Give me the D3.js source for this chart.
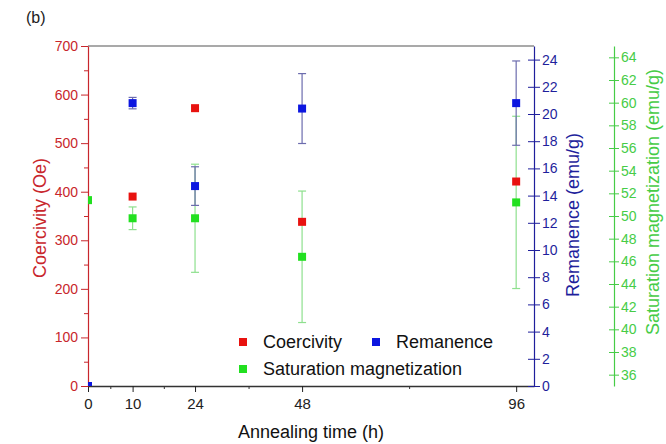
<!DOCTYPE html>
<html>
<head>
<meta charset="utf-8">
<script src="https://cdn.jsdelivr.net/npm/d3@7"></script>
<style>
  body { margin: 0; background: #fff; }
  svg { font-family: "Liberation Sans", Arial, sans-serif; }
</style>
</head>
<body>
<svg width="666" height="444"></svg>
<script>
// annealing times (h)
var times = [0, 10, 24, 48, 96]
var xTickLabels = [0, 10, 24, 48, 96]
var xMinorTicks = [5, 17, 36, 72]

// Coercivity (Oe), left axis
var coercivity = [0, 390, 572, 338, 421]
// Remanence (emu/g), first right axis
var remanence = [0, 20.8, 14.7, 20.4, 20.8]
var remanenceErr = [0, 0.42, 1.42, 2.57, 3.1]
// Saturation magnetization (emu/g), second right axis
var saturation = [51.4, 49.8, 49.8, 46.4, 51.2]
var saturationErr = [0, 1.0, 4.77, 5.8, 7.6]

var legendNames = ["Coercivity", "Remanence", "Saturation magnetization"]

var red = "#e8120f", redAxis = "#c8262c"
var blue = "#0c16e0", blueAxis = "#1f1f9c"
var green = "#22e020", greenAxis = "#46cc46"

var svg = d3.select("svg")
var pLeft = 88, pRight = 534, pTop = 46, pBottom = 386

var x = d3.scaleLinear().domain([0, 100]).range([pLeft, pRight])
var yL = d3.scaleLinear().domain([0, 700]).range([pBottom, pTop])
var yR = d3.scaleLinear().domain([0, 25]).range([pBottom, pTop])
var yG = d3.scaleLinear().domain([35, 65]).range([pBottom, pTop])

svg.append("defs").append("clipPath").attr("id", "plot")
  .append("rect").attr("x", pLeft).attr("y", pTop)
  .attr("width", pRight - pLeft).attr("height", pBottom - pTop)

// top frame line
svg.append("line").attr("x1", pLeft).attr("x2", pRight).attr("y1", pTop).attr("y2", pTop)
  .attr("stroke", "#555").attr("stroke-width", 1.2)

function styleAxis(g, color, size) {
  g.select(".domain").attr("stroke", color).attr("stroke-width", 1.2)
  g.selectAll(".tick line").attr("stroke", color)
  g.selectAll(".tick text").attr("fill", color).style("font-size", size + "px")
    .style("font-family", "Liberation Sans, Arial, sans-serif")
}

// bottom axis
var xMinor = svg.append("g").attr("transform", "translate(0," + pBottom + ")")
  .call(d3.axisBottom(x).tickValues(xMinorTicks).tickSize(3).tickFormat(""))
xMinor.select(".domain").remove()
xMinor.selectAll(".tick line").attr("stroke", "#333")
var xAx = svg.append("g").attr("transform", "translate(0," + pBottom + ")")
  .call(d3.axisBottom(x).tickValues(xTickLabels).tickSize(6).tickPadding(6).tickSizeOuter(0))
styleAxis(xAx, "#222", 15)
xAx.select(".domain").attr("stroke", "#333").attr("stroke-width", 1.6)

// left axis (red)
var lMinor = svg.append("g").attr("transform", "translate(" + pLeft + ",0)")
  .call(d3.axisLeft(yL).tickValues(d3.range(50, 700, 100)).tickSize(4).tickFormat(""))
lMinor.select(".domain").remove()
lMinor.selectAll(".tick line").attr("stroke", redAxis)
var lAx = svg.append("g").attr("transform", "translate(" + pLeft + ",0)")
  .call(d3.axisLeft(yL).tickValues(d3.range(0, 701, 100)).tickSize(7).tickPadding(3).tickSizeOuter(0))
styleAxis(lAx, redAxis, 14)

// right axis (blue)
var rAx = svg.append("g").attr("transform", "translate(" + pRight + ",0)")
  .call(d3.axisRight(yR).tickValues(d3.range(0, 25, 2)).tickSize(6).tickPadding(2).tickSizeOuter(0))
styleAxis(rAx, blueAxis, 14)
rAx.selectAll(".tick line").attr("x1", -6)

// second right axis (green)
var gx = 614
var gAx = svg.append("g").attr("transform", "translate(" + gx + ",0)")
  .call(d3.axisRight(yG).tickValues(d3.range(36, 65, 2)).tickSize(5).tickPadding(2).tickSizeOuter(0))
styleAxis(gAx, greenAxis, 14)
gAx.selectAll(".tick line").attr("x1", -5)

// axis titles
svg.append("text").attr("transform", "translate(46,218) rotate(-90)")
  .attr("text-anchor", "middle").attr("fill", redAxis).style("font-size", "18px")
  .text("Coercivity (Oe)")
svg.append("text").attr("transform", "translate(579,215) rotate(-90)")
  .attr("text-anchor", "middle").attr("fill", blueAxis).style("font-size", "18px")
  .text("Remanence (emu/g)")
svg.append("text").attr("transform", "translate(659,202) rotate(-90)")
  .attr("text-anchor", "middle").attr("fill", greenAxis).style("font-size", "18px")
  .text("Saturation magnetization (emu/g)")
svg.append("text").attr("x", 311).attr("y", 438).attr("text-anchor", "middle")
  .attr("fill", "#111").style("font-size", "18px").text("Annealing time (h)")
svg.append("text").attr("x", 26).attr("y", 23).attr("fill", "#222")
  .style("font-size", "16px").text("(b)")

// error bars
var plot = svg.append("g").attr("clip-path", "url(#plot)")
function errBars(vals, errs, scale, color) {
  var g = plot.append("g")
  times.forEach(function (t, i) {
    if (!errs[i]) return
    var cx = x(t), y1 = scale(vals[i] + errs[i]), y2 = scale(vals[i] - errs[i])
    g.append("line").attr("x1", cx).attr("x2", cx).attr("y1", y1).attr("y2", y2)
      .attr("stroke", color).attr("stroke-width", 1.2)
    ;[y1, y2].forEach(function (yy) {
      g.append("line").attr("x1", cx - 4).attr("x2", cx + 4).attr("y1", yy).attr("y2", yy)
        .attr("stroke", color).attr("stroke-width", 1.2)
    })
  })
}
errBars(saturation, saturationErr, yG, "#8ee08e")
errBars(remanence, remanenceErr, yR, "#6c6cae")

function squares(vals, scale, color) {
  plot.append("g").selectAll("rect").data(vals).enter().append("rect")
    .attr("x", function (d, i) { return x(times[i]) - 4 })
    .attr("y", function (d) { return scale(d) - 4 })
    .attr("width", 8).attr("height", 8).attr("fill", color)
}
squares(saturation, yG, green)
squares(coercivity, yL, red)
squares(remanence, yR, blue)

// legend
var legend = [
  { name: legendNames[0], color: red, x: 243, y: 342 },
  { name: legendNames[1], color: blue, x: 376, y: 342 },
  { name: legendNames[2], color: green, x: 243, y: 369 }
]
var lg = svg.append("g").selectAll("g").data(legend).enter().append("g")
lg.append("rect").attr("x", function (d) { return d.x - 4 }).attr("y", function (d) { return d.y - 4 })
  .attr("width", 8).attr("height", 8).attr("fill", function (d) { return d.color })
lg.append("text").attr("x", function (d) { return d.x + 20 }).attr("y", function (d) { return d.y + 6 })
  .attr("fill", "#111").style("font-size", "18px").text(function (d) { return d.name })
</script>
</body>
</html>
